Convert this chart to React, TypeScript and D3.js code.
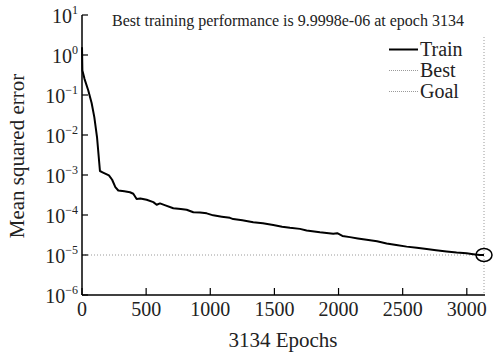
import React from "react";
import * as d3 from "d3";

const epochs = [0, 3, 20, 49, 75, 96, 117, 140, 160, 185, 210, 235, 260, 283, 330, 374, 400, 426, 455, 504, 556, 582, 608, 650, 712, 770, 816, 868, 920, 972, 1023, 1090, 1153, 1179, 1250, 1335, 1410, 1491, 1560, 1621, 1699, 1751, 1855, 1959, 1990, 2030, 2089, 2150, 2219, 2300, 2375, 2450, 2531, 2610, 2687, 2760, 2842, 2920, 2998, 3050, 3102, 3134];
const trainMse = [1.57, 0.41, 0.25, 0.13, 0.063, 0.028, 0.0089, 0.00126, 0.00117, 0.00107, 0.00098, 0.00076, 0.0005, 0.00041, 0.00039, 0.00037, 0.00034, 0.00025, 0.00026, 0.00024, 0.00021, 0.00018, 0.000195, 0.000174, 0.000148, 0.000141, 0.000135, 0.000117, 0.000116, 0.00011, 0.000098, 0.000091, 0.000085, 0.000079, 0.000074, 0.000066, 0.000062, 0.000056, 0.000051, 0.000048, 0.000045, 0.000041, 0.000037, 0.000034, 0.000035, 0.000030, 0.000028, 0.000026, 0.000024, 0.000022, 0.0000195, 0.0000178, 0.0000162, 0.0000151, 0.0000141, 0.0000132, 0.0000123, 0.0000115, 0.000011, 0.0000105, 0.0000100, 0.0000099998];
const xTicks = [0, 500, 1000, 1500, 2000, 2500, 3000];
const yTickExps = [1, 0, -1, -2, -3, -4, -5, -6];
const bestEpoch = 3134;
const bestPerf = 9.9998e-6;
const goal = 1e-5;
const titleText = "Best training performance is 9.9998e-06 at epoch 3134";
const xLabel = "3134 Epochs";
const yLabel = "Mean squared error";
const legendItems = ["Train", "Best", "Goal"];

const FONT = "Liberation Serif";

export default function App() {
  const x = d3.scaleLinear().domain([0, 3134]).range([82, 484]);
  const y = d3.scaleLog().domain([1e-6, 10]).range([295, 15]);
  const line = d3
    .line<number>()
    .x((_, i) => x(epochs[i]))
    .y((d) => y(d));
  const fmtExp = (e: number) => (e < 0 ? "\u2212" + Math.abs(e) : String(e));
  const gray = "#9a9a9a";
  return (
    <svg width={493} height={353} style={{ position: "absolute", left: 0, top: 0, background: "#fff" }}>
      <rect x={0} y={0} width={493} height={353} fill="#fff" />
      <line x1={x(0)} x2={x(3134)} y1={y(goal)} y2={y(goal)} stroke={gray} strokeWidth={1} strokeDasharray="1,2" />
      <line x1={x(bestEpoch)} x2={x(bestEpoch)} y1={37} y2={295} stroke={gray} strokeWidth={1} strokeDasharray="1,2" />
      <path d={line(trainMse) || ""} fill="none" stroke="#000" strokeWidth={2} strokeLinejoin="round" />
      <ellipse cx={x(bestEpoch)} cy={y(bestPerf)} rx={8} ry={6.5} fill="none" stroke="#000" strokeWidth={1.5} />
      <line x1={82} x2={82} y1={15} y2={295} stroke="#000" strokeWidth={1.5} />
      <line x1={82} x2={485} y1={295} y2={295} stroke="#000" strokeWidth={1.5} />
      {yTickExps.map((e) => (
        <g key={e}>
          <line x1={82} x2={88} y1={y(Math.pow(10, e))} y2={y(Math.pow(10, e))} stroke="#000" strokeWidth={1.2} />
          <text x={78} y={y(Math.pow(10, e)) + 8} textAnchor="end" fontFamily={FONT} fontSize={20} fill="#222">
            10
            <tspan dy={-9} fontSize={12}>{fmtExp(e)}</tspan>
          </text>
        </g>
      ))}
      {xTicks.map((t) => (
        <g key={t}>
          <line x1={x(t)} x2={x(t)} y1={295} y2={288} stroke="#000" strokeWidth={1.2} />
          <text x={x(t)} y={316} textAnchor="middle" fontFamily={FONT} fontSize={20} fill="#222">
            {t}
          </text>
        </g>
      ))}
      <text x={288} y={26} textAnchor="middle" fontFamily={FONT} fontSize={16} fill="#222">
        {titleText}
      </text>
      <text x={283} y={347} textAnchor="middle" fontFamily={FONT} fontSize={21} fill="#222">
        {xLabel}
      </text>
      <text transform="translate(24,156) rotate(-90)" textAnchor="middle" fontFamily={FONT} fontSize={21} fill="#222">
        {yLabel}
      </text>
      {legendItems.map((name, i) => {
        const ly = 49.5 + i * 21;
        return (
          <g key={name}>
            <line x1={389} x2={418} y1={ly} y2={ly} stroke={i === 0 ? "#000" : gray} strokeWidth={i === 0 ? 2 : 1} strokeDasharray={i === 0 ? undefined : "1,1"} />
            <text x={420} y={ly + 6} fontFamily={FONT} fontSize={20} fill="#222">
              {name}
            </text>
          </g>
        );
      })}
    </svg>
  );
}
